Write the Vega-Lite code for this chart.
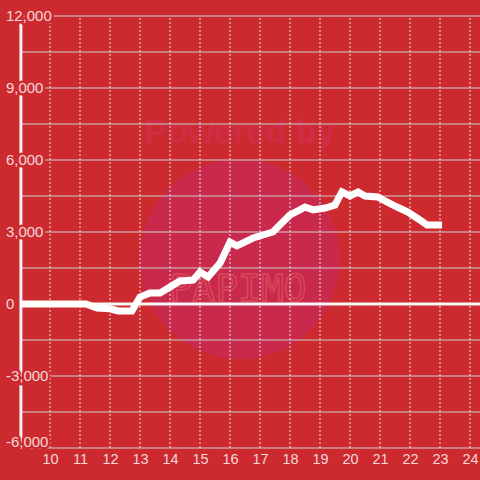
{
  "$schema": "https://vega.github.io/schema/vega-lite/v6.json",
  "width": 460,
  "height": 432,
  "autosize": {"type": "none"},
  "padding": {"left": 20, "top": 16, "right": 0, "bottom": 32},
  "background": "#cd2a2f",
  "config": {
    "view": {"stroke": null},
    "axisY": {"disable": true},
    "axisX": {
      "format": "d", "grid": false, "domain": false, "ticks": false,
      "labelFont": "Liberation Sans", "labelFontSize": 14.5, "labelColor": "#f3d8da",
      "labelPadding": 4, "labelOverlap": false, "labelFlush": false
    }
  },
  "datasets": {
    "series": [
      {"hour": 9.0, "value": 0},
      {"hour": 11.2, "value": 0},
      {"hour": 11.57, "value": -170},
      {"hour": 12.0, "value": -200},
      {"hour": 12.27, "value": -290},
      {"hour": 12.73, "value": -290},
      {"hour": 13.0, "value": 290},
      {"hour": 13.33, "value": 460},
      {"hour": 13.67, "value": 460},
      {"hour": 14.0, "value": 710},
      {"hour": 14.33, "value": 960},
      {"hour": 14.77, "value": 1000},
      {"hour": 15.0, "value": 1330},
      {"hour": 15.27, "value": 1125},
      {"hour": 15.67, "value": 1710},
      {"hour": 16.0, "value": 2580},
      {"hour": 16.23, "value": 2420},
      {"hour": 16.77, "value": 2750},
      {"hour": 17.43, "value": 3000},
      {"hour": 18.0, "value": 3710},
      {"hour": 18.33, "value": 3920},
      {"hour": 18.5, "value": 4040},
      {"hour": 18.77, "value": 3920},
      {"hour": 19.17, "value": 4000},
      {"hour": 19.5, "value": 4125},
      {"hour": 19.73, "value": 4670},
      {"hour": 20.0, "value": 4500},
      {"hour": 20.27, "value": 4670},
      {"hour": 20.5, "value": 4500},
      {"hour": 20.93, "value": 4460},
      {"hour": 21.23, "value": 4250},
      {"hour": 21.57, "value": 4040},
      {"hour": 21.93, "value": 3830},
      {"hour": 22.33, "value": 3500},
      {"hour": 22.57, "value": 3290},
      {"hour": 23.07, "value": 3290}
    ],
    "hgrid": [
      {"v": -6000}, {"v": -4500}, {"v": -3000}, {"v": -1500}, {"v": 0},
      {"v": 1500}, {"v": 3000}, {"v": 4500}, {"v": 6000}, {"v": 7500},
      {"v": 9000}, {"v": 10500}, {"v": 12000}
    ],
    "ylabels": [
      {"v": -6000, "label": "-6,000"}, {"v": -3000, "label": "-3,000"}, {"v": 0, "label": "0"},
      {"v": 3000, "label": "3,000"}, {"v": 6000, "label": "6,000"}, {"v": 9000, "label": "9,000"},
      {"v": 12000, "label": "12,000"}
    ],
    "vgrid": [
      {"h": 10}, {"h": 11}, {"h": 12}, {"h": 13}, {"h": 14}, {"h": 15}, {"h": 16},
      {"h": 17}, {"h": 18}, {"h": 19}, {"h": 20}, {"h": 21}, {"h": 22}, {"h": 23}, {"h": 24}
    ]
  },
  "layer": [
    {
      "data": {"values": [{}]},
      "mark": {"type": "point", "shape": "circle", "filled": true, "opacity": 1, "color": "#c9294a", "size": 40000},
      "encoding": {
        "x": {"datum": 16.33, "type": "quantitative", "scale": {"domain": [9, 24.3333], "nice": false, "zero": false}, "title": null},
        "y": {"datum": 1875, "type": "quantitative", "scale": {"domain": [-6000, 12000], "nice": false, "zero": false}, "title": null}
      }
    },
    {
      "data": {"values": [{"t": "Powered by"}]},
      "mark": {"type": "text", "font": "Liberation Sans", "fontWeight": "bold", "fontSize": 34, "color": "#d12c45", "baseline": "middle", "align": "center"},
      "encoding": {
        "x": {"datum": 16.33, "type": "quantitative", "title": null},
        "y": {"datum": 7125, "type": "quantitative", "title": null},
        "text": {"field": "t"}
      }
    },
    {
      "data": {"values": [{"t": "PAPIMO"}]},
      "mark": {"type": "text", "font": "DejaVu Sans Mono", "fontSize": 38, "fillOpacity": 0, "stroke": "#d9475d", "strokeWidth": 1.5, "baseline": "middle", "align": "center"},
      "encoding": {
        "x": {"datum": 16.27, "type": "quantitative", "title": null},
        "y": {"datum": 600, "type": "quantitative", "title": null},
        "text": {"field": "t"}
      }
    },
    {
      "data": {"name": "hgrid"},
      "mark": {"type": "rule", "color": "#cfcfcf", "strokeWidth": 1},
      "encoding": {
        "x": {"datum": 9, "type": "quantitative", "title": null},
        "x2": {"datum": 24.3333},
        "y": {"field": "v", "type": "quantitative", "title": null}
      }
    },
    {
      "data": {"name": "vgrid"},
      "mark": {"type": "rule", "color": "#e2e2e2", "strokeWidth": 1, "strokeDash": [2, 2]},
      "encoding": {
        "x": {"field": "h", "type": "quantitative", "title": null,
              "axis": {"values": [10, 11, 12, 13, 14, 15, 16, 17, 18, 19, 20, 21, 22, 23, 24],
                       "labelOverlap": false, "labelFlush": false, "labelBound": false, "tickCount": 15, "format": "d"}},
        "y": {"datum": -6000, "type": "quantitative", "title": null},
        "y2": {"datum": 12000}
      }
    },
    {
      "data": {"values": [{}]},
      "mark": {"type": "rule", "color": "#f2f2f2", "strokeWidth": 3},
      "encoding": {
        "x": {"datum": 9.03, "type": "quantitative", "title": null},
        "y": {"datum": -6000, "type": "quantitative", "title": null},
        "y2": {"datum": 12000}
      }
    },
    {
      "data": {"values": [{}]},
      "mark": {"type": "rule", "color": "#f7f7f7", "strokeWidth": 3},
      "encoding": {
        "x": {"datum": 9, "type": "quantitative", "title": null},
        "x2": {"datum": 24.3333},
        "y": {"datum": 0, "type": "quantitative", "title": null}
      }
    },
    {
      "data": {"name": "series"},
      "mark": {"type": "line", "color": "#ffffff", "strokeWidth": 7},
      "encoding": {
        "x": {"field": "hour", "type": "quantitative", "title": null},
        "y": {"field": "value", "type": "quantitative", "title": null}
      }
    },
    {
      "data": {"name": "ylabels"},
      "transform": [{"filter": "datum.v > -6000"}],
      "mark": {"type": "text", "font": "Liberation Sans", "fontSize": 15, "align": "left", "baseline": "middle", "fill": "#cd2a2f", "stroke": "#cd2a2f", "strokeWidth": 5, "strokeJoin": "round"},
      "encoding": {
        "x": {"datum": 8.53, "type": "quantitative", "title": null},
        "y": {"field": "v", "type": "quantitative", "title": null},
        "text": {"field": "label"}
      }
    },
    {
      "data": {"name": "ylabels"},
      "transform": [{"filter": "datum.v > -6000"}],
      "mark": {"type": "text", "font": "Liberation Sans", "fontSize": 15, "align": "left", "baseline": "middle", "fill": "#f3d8da"},
      "encoding": {
        "x": {"datum": 8.53, "type": "quantitative", "title": null},
        "y": {"field": "v", "type": "quantitative", "title": null},
        "text": {"field": "label"}
      }
    },
    {
      "data": {"name": "ylabels"},
      "transform": [{"filter": "datum.v == -6000"}],
      "mark": {"type": "text", "font": "Liberation Sans", "fontSize": 15, "align": "left", "baseline": "middle", "dy": -6, "fill": "#cd2a2f", "stroke": "#cd2a2f", "strokeWidth": 5, "strokeJoin": "round"},
      "encoding": {
        "x": {"datum": 8.53, "type": "quantitative", "title": null},
        "y": {"field": "v", "type": "quantitative", "title": null},
        "text": {"field": "label"}
      }
    },
    {
      "data": {"name": "ylabels"},
      "transform": [{"filter": "datum.v == -6000"}],
      "mark": {"type": "text", "font": "Liberation Sans", "fontSize": 15, "align": "left", "baseline": "middle", "dy": -6, "fill": "#f3d8da"},
      "encoding": {
        "x": {"datum": 8.53, "type": "quantitative", "title": null},
        "y": {"field": "v", "type": "quantitative", "title": null},
        "text": {"field": "label"}
      }
    }
  ]
}
